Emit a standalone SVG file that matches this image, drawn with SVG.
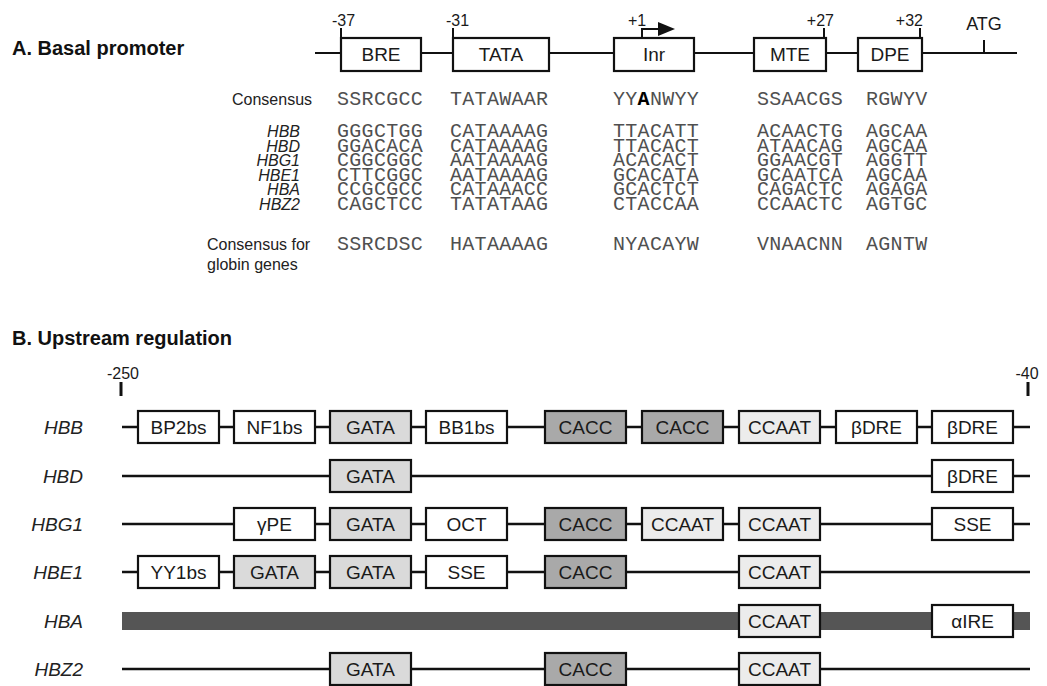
<svg xmlns="http://www.w3.org/2000/svg" width="1047" height="686" viewBox="0 0 1047 686">
<style>
.bg{fill:#fff}
.ln{stroke:#111;stroke-width:2;fill:none}
.lnb{stroke:#111;stroke-width:2.4;fill:none}
.tk{stroke:#111;stroke-width:2;fill:none}
.tkb{stroke:#111;stroke-width:3;fill:none}
.box{stroke:#111;stroke-width:2.2}
.w{fill:#fff}.g1{fill:#dadada}.g2{fill:#a9a9a9}.g3{fill:#ececec}
.bl{font-family:"Liberation Sans",Arial,sans-serif;font-size:19px;text-anchor:middle;fill:#1a1a1a}
.num{font-family:"Liberation Sans",Arial,sans-serif;font-size:16px;fill:#1a1a1a}
.title{font-family:"Liberation Sans",Arial,sans-serif;font-size:20px;font-weight:bold;fill:#111}
.seq{font-family:"Liberation Mono","Courier New",monospace;font-size:20px;letter-spacing:0.3px;fill:#505050}
.lab{font-family:"Liberation Sans",Arial,sans-serif;font-size:16px;fill:#222}
.gene{font-family:"Liberation Sans",Arial,sans-serif;font-size:16px;font-style:italic;fill:#222;text-anchor:end}
.rowlab{font-family:"Liberation Sans",Arial,sans-serif;font-size:19px;font-style:italic;fill:#222;text-anchor:end}
</style>
<defs>
<rect id="bB" width="81" height="32"/>
</defs>
<rect class="bg" x="0" y="0" width="1047" height="686"/>

<!-- Part A -->
<text class="title" x="12" y="55">A. Basal promoter</text>
<g id="connectorsA">
<line class="ln" x1="315" y1="53" x2="1017" y2="53"/>
</g>
<g id="BRE">
<rect class="box w" x="341" y="38" width="80" height="33"/>
<text class="bl" x="381" y="61">BRE</text>
<line class="tk" x1="341" y1="38" x2="341" y2="28"/>
<text class="num" x="332" y="26">-37</text>
</g>
<g id="TATA">
<rect class="box w" x="453" y="38" width="96" height="33"/>
<text class="bl" x="501" y="61">TATA</text>
<line class="tk" x1="453" y1="38" x2="453" y2="28"/>
<text class="num" x="446" y="26">-31</text>
</g>
<g id="Inr">
<rect class="box w" x="614" y="38" width="80" height="33"/>
<text class="bl" x="654" y="61">Inr</text>
<polyline class="tk" points="642,38 642,29 662,29"/>
<polygon points="658,22 675,29 658,36" fill="#111"/>
<text class="num" x="628" y="26">+1</text>
</g>
<g id="MTE">
<rect class="box w" x="754" y="38" width="72" height="33"/>
<text class="bl" x="790" y="61">MTE</text>
<line class="tk" x1="824" y1="38" x2="824" y2="28"/>
<text class="num" x="834" y="26" text-anchor="end">+27</text>
</g>
<g id="DPE">
<rect class="box w" x="858" y="38" width="64" height="33"/>
<text class="bl" x="890" y="61">DPE</text>
<line class="tk" x1="920" y1="38" x2="920" y2="28"/>
<text class="num" x="923" y="26" text-anchor="end">+32</text>
</g>
<g id="ATG">
<line class="tk" x1="984" y1="40" x2="984" y2="53"/>
<text class="num" x="984" y="30" text-anchor="middle" style="font-size:18px">ATG</text>
</g>

<g id="sequences">
<text class="lab" x="232" y="105">Consensus</text>
<text class="seq" y="105"><tspan x="337">SSRCGCC</tspan><tspan x="450">TATAWAAR</tspan><tspan x="613">YY<tspan font-weight="bold" fill="#000">A</tspan>NWYY</tspan><tspan x="757">SSAACGS</tspan><tspan x="866">RGWYV</tspan></text>

<text class="gene" y="137"><tspan x="300" y="137">HBB</tspan><tspan x="300" y="151.6">HBD</tspan><tspan x="300" y="166.2">HBG1</tspan><tspan x="300" y="180.8">HBE1</tspan><tspan x="300" y="195.4">HBA</tspan><tspan x="300" y="210">HBZ2</tspan></text>

<text class="seq"><tspan x="337" y="137">GGGCTGG</tspan><tspan x="337" y="151.6">GGACACA</tspan><tspan x="337" y="166.2">CGGCGGC</tspan><tspan x="337" y="180.8">CTTCGGC</tspan><tspan x="337" y="195.4">CCGCGCC</tspan><tspan x="337" y="210">CAGCTCC</tspan></text>
<text class="seq"><tspan x="450" y="137">CATAAAAG</tspan><tspan x="450" y="151.6">CATAAAAG</tspan><tspan x="450" y="166.2">AATAAAAG</tspan><tspan x="450" y="180.8">AATAAAAG</tspan><tspan x="450" y="195.4">CATAAACC</tspan><tspan x="450" y="210">TATATAAG</tspan></text>
<text class="seq"><tspan x="613" y="137">TTACATT</tspan><tspan x="613" y="151.6">TTACACT</tspan><tspan x="613" y="166.2">ACACACT</tspan><tspan x="613" y="180.8">GCACATA</tspan><tspan x="613" y="195.4">GCACTCT</tspan><tspan x="613" y="210">CTACCAA</tspan></text>
<text class="seq"><tspan x="757" y="137">ACAACTG</tspan><tspan x="757" y="151.6">ATAACAG</tspan><tspan x="757" y="166.2">GGAACGT</tspan><tspan x="757" y="180.8">GCAATCA</tspan><tspan x="757" y="195.4">CAGACTC</tspan><tspan x="757" y="210">CCAACTC</tspan></text>
<text class="seq"><tspan x="866" y="137">AGCAA</tspan><tspan x="866" y="151.6">AGCAA</tspan><tspan x="866" y="166.2">AGGTT</tspan><tspan x="866" y="180.8">AGCAA</tspan><tspan x="866" y="195.4">AGAGA</tspan><tspan x="866" y="210">AGTGC</tspan></text>

<text class="lab"><tspan x="207" y="250">Consensus for</tspan><tspan x="207" y="270">globin genes</tspan></text>
<text class="seq" y="250"><tspan x="337">SSRCDSC</tspan><tspan x="450">HATAAAAG</tspan><tspan x="613">NYACAYW</tspan><tspan x="757">VNAACNN</tspan><tspan x="866">AGNTW</tspan></text>
</g>

<!-- Part B -->
<text class="title" x="12" y="345">B. Upstream regulation</text>
<g id="scale">
<text class="num" x="123" y="379" text-anchor="middle">-250</text>
<line class="tkb" x1="121" y1="382" x2="121" y2="396"/>
<text class="num" x="1027" y="379" text-anchor="middle">-40</text>
<line class="tkb" x1="1028" y1="382" x2="1028" y2="396"/>
</g>

<g id="rowlabels">
<text class="rowlab" x="83" y="434">HBB</text>
<text class="rowlab" x="83" y="483">HBD</text>
<text class="rowlab" x="83" y="531">HBG1</text>
<text class="rowlab" x="83" y="579">HBE1</text>
<text class="rowlab" x="83" y="628">HBA</text>
<text class="rowlab" x="83" y="676">HBZ2</text>
</g>

<g id="connectors">
<line class="lnb" x1="122" y1="427" x2="1030" y2="427"/>
<line class="lnb" x1="122" y1="476" x2="1030" y2="476"/>
<line class="lnb" x1="122" y1="524" x2="1030" y2="524"/>
<line class="lnb" x1="122" y1="572" x2="1030" y2="572"/>
<rect x="122" y="612" width="908" height="18" fill="#555"/>
<line class="lnb" x1="122" y1="669" x2="1030" y2="669"/>
</g>

<g id="HBB-row">
<g id="HBB-BP2bs"><use href="#bB" class="box w" x="138" y="411"/><text class="bl" x="178.5" y="434">BP2bs</text></g>
<g id="HBB-NF1bs"><use href="#bB" class="box w" x="234" y="411"/><text class="bl" x="274.5" y="434">NF1bs</text></g>
<g id="HBB-GATA"><use href="#bB" class="box g1" x="330" y="411"/><text class="bl" x="370.5" y="434">GATA</text></g>
<g id="HBB-BB1bs"><use href="#bB" class="box w" x="426" y="411"/><text class="bl" x="466.5" y="434">BB1bs</text></g>
<g id="HBB-CACC1"><use href="#bB" class="box g2" x="545" y="411"/><text class="bl" x="585.5" y="434">CACC</text></g>
<g id="HBB-CACC2"><use href="#bB" class="box g2" x="642" y="411"/><text class="bl" x="682.5" y="434">CACC</text></g>
<g id="HBB-CCAAT"><use href="#bB" class="box g3" x="739" y="411"/><text class="bl" x="779.5" y="434">CCAAT</text></g>
<g id="HBB-bDRE1"><use href="#bB" class="box w" x="836" y="411"/><text class="bl" x="876.5" y="434">βDRE</text></g>
<g id="HBB-bDRE2"><use href="#bB" class="box w" x="932" y="411"/><text class="bl" x="972.5" y="434">βDRE</text></g>
</g>

<g id="HBD-row">
<g id="HBD-GATA"><use href="#bB" class="box g1" x="330" y="460"/><text class="bl" x="370.5" y="483">GATA</text></g>
<g id="HBD-bDRE"><use href="#bB" class="box w" x="932" y="460"/><text class="bl" x="972.5" y="483">βDRE</text></g>
</g>

<g id="HBG1-row">
<g id="HBG1-gPE"><use href="#bB" class="box w" x="234" y="508"/><text class="bl" x="274.5" y="531">γPE</text></g>
<g id="HBG1-GATA"><use href="#bB" class="box g1" x="330" y="508"/><text class="bl" x="370.5" y="531">GATA</text></g>
<g id="HBG1-OCT"><use href="#bB" class="box w" x="426" y="508"/><text class="bl" x="466.5" y="531">OCT</text></g>
<g id="HBG1-CACC"><use href="#bB" class="box g2" x="545" y="508"/><text class="bl" x="585.5" y="531">CACC</text></g>
<g id="HBG1-CCAAT1"><use href="#bB" class="box g3" x="642" y="508"/><text class="bl" x="682.5" y="531">CCAAT</text></g>
<g id="HBG1-CCAAT2"><use href="#bB" class="box g3" x="739" y="508"/><text class="bl" x="779.5" y="531">CCAAT</text></g>
<g id="HBG1-SSE"><use href="#bB" class="box w" x="932" y="508"/><text class="bl" x="972.5" y="531">SSE</text></g>
</g>

<g id="HBE1-row">
<g id="HBE1-YY1bs"><use href="#bB" class="box w" x="138" y="556"/><text class="bl" x="178.5" y="579">YY1bs</text></g>
<g id="HBE1-GATA1"><use href="#bB" class="box g1" x="234" y="556"/><text class="bl" x="274.5" y="579">GATA</text></g>
<g id="HBE1-GATA2"><use href="#bB" class="box g1" x="330" y="556"/><text class="bl" x="370.5" y="579">GATA</text></g>
<g id="HBE1-SSE"><use href="#bB" class="box w" x="426" y="556"/><text class="bl" x="466.5" y="579">SSE</text></g>
<g id="HBE1-CACC"><use href="#bB" class="box g2" x="545" y="556"/><text class="bl" x="585.5" y="579">CACC</text></g>
<g id="HBE1-CCAAT"><use href="#bB" class="box g3" x="739" y="556"/><text class="bl" x="779.5" y="579">CCAAT</text></g>
</g>

<g id="HBA-row">
<g id="HBA-CCAAT"><use href="#bB" class="box g3" x="739" y="605"/><text class="bl" x="779.5" y="628">CCAAT</text></g>
<g id="HBA-aIRE"><use href="#bB" class="box w" x="932" y="605"/><text class="bl" x="972.5" y="628">αIRE</text></g>
</g>

<g id="HBZ2-row">
<g id="HBZ2-GATA"><use href="#bB" class="box g1" x="330" y="653"/><text class="bl" x="370.5" y="676">GATA</text></g>
<g id="HBZ2-CACC"><use href="#bB" class="box g2" x="545" y="653"/><text class="bl" x="585.5" y="676">CACC</text></g>
<g id="HBZ2-CCAAT"><use href="#bB" class="box g3" x="739" y="653"/><text class="bl" x="779.5" y="676">CCAAT</text></g>
</g>
</svg>
